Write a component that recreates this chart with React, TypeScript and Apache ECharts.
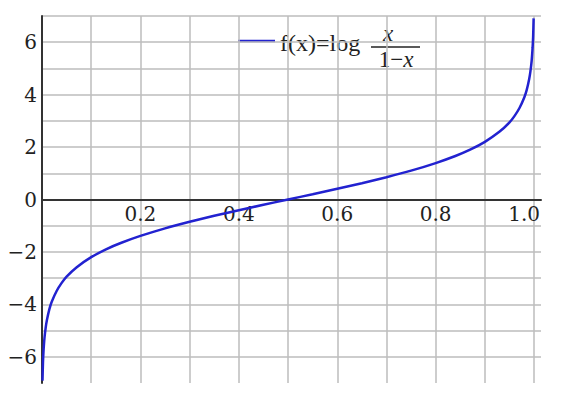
import React, { useEffect, useRef } from "react";
import * as echarts from "echarts";

// Points: [x, f(x)]
const curveX: number[] = [
  0.001, 0.002, 0.003, 0.005, 0.0075, 0.01, 0.015, 0.02, 0.03, 0.04, 0.05, 0.07,
  0.1, 0.13, 0.16, 0.2, 0.25, 0.3, 0.35, 0.4, 0.45, 0.5, 0.55, 0.6, 0.65, 0.7,
  0.75, 0.8, 0.84, 0.87, 0.9, 0.93, 0.95, 0.96, 0.97, 0.98, 0.985, 0.99, 0.9925,
  0.995, 0.997, 0.998, 0.999,
];
const curveY: number[] = [
  -6.91, -6.21, -5.81, -5.29, -4.89, -4.6, -4.18, -3.89, -3.48, -3.18, -2.94, -2.59,
  -2.2, -1.9, -1.66, -1.39, -1.1, -0.85, -0.62, -0.41, -0.2, 0, 0.2, 0.41, 0.62, 0.85,
  1.1, 1.39, 1.66, 1.9, 2.2, 2.59, 2.94, 3.18, 3.48, 3.89, 4.18, 4.6, 4.89,
  5.29, 5.81, 6.21, 6.91,
];
const xTickLabels: string[] = ["0.2", "0.4", "0.6", "0.8", "1.0"];
const yTickLabels: string[] = ["−6", "−4", "−2", "0", "2", "4", "6"];
const seriesName = "f(x)=log x/(1−x)";

const AXIS_FONT = "'DejaVu Serif', serif";
const LEG_FONT = "'Liberation Serif', 'Times New Roman', serif";
const BLUE = "#2222d0";

export default function App() {
  const ref = useRef<HTMLDivElement>(null);
  useEffect(() => {
    if (!ref.current) return;
    const chart = echarts.init(ref.current, null, { renderer: "svg" });
    const data = curveX.map((x, i) => [x, curveY[i]]);
    chart.setOption({
      animation: false,
      backgroundColor: "#ffffff",
      grid: { left: 42, top: 16, right: 34, bottom: 34, containLabel: false },
      xAxis: {
        type: "value",
        min: 0,
        max: 1.014,
        interval: 0.1,
        axisLine: { show: true, onZero: true, lineStyle: { color: "#333", width: 2 } },
        axisTick: { show: false },
        splitLine: {
          show: true,
          showMinLine: false,
          showMaxLine: false,
          lineStyle: { color: "#bdbdbd", width: 1.5 },
        },
        axisLabel: {
          show: true,
          margin: -179,
          color: "#222",
          fontFamily: AXIS_FONT,
          fontSize: 20,
          showMaxLabel: false,
          formatter: (v: number) => {
            const k = Math.round(v * 10);
            if (Math.abs(v * 10 - k) > 1e-6) return "";
            const lbl = (k / 10).toFixed(1);
            if (!xTickLabels.includes(lbl)) return "";
            return k === 10 ? "{r|" + lbl + "}" : lbl;
          },
          rich: {
            r: { fontFamily: AXIS_FONT, fontSize: 20, color: "#222", padding: [0, 20, 0, 0] },
          },
        },
      },
      yAxis: {
        type: "value",
        min: -7,
        max: 7,
        interval: 1,
        axisLine: { show: true, onZero: false, lineStyle: { color: "#333", width: 2 } },
        axisTick: { show: false },
        splitLine: {
          show: true,
          showMinLine: false,
          lineStyle: { color: "#bdbdbd", width: 1.5 },
        },
        axisLabel: {
          show: true,
          margin: 5,
          color: "#222",
          fontFamily: AXIS_FONT,
          fontSize: 20,
          formatter: (v: number) => {
            const k = Math.round(v);
            const lbl = k < 0 ? "−" + Math.abs(k) : String(k);
            return yTickLabels.includes(lbl) ? lbl : "";
          },
        },
      },
      series: [
        {
          name: seriesName,
          type: "line",
          data,
          showSymbol: false,
          smooth: 0.2,
          clip: true,
          lineStyle: { color: BLUE, width: 2.5 },
        },
      ],
      graphic: [
        {
          type: "line",
          shape: { x1: 238, y1: 41, x2: 275, y2: 41 },
          style: { stroke: BLUE, lineWidth: 2.5 },
        },
        {
          type: "text",
          x: 280,
          y: 43,
          style: {
            text: "f(x)=log",
            font: "24px " + LEG_FONT,
            fill: "#222",
            verticalAlign: "middle",
          },
        },
        {
          type: "text",
          x: 388,
          y: 33,
          style: {
            text: "x",
            font: "italic 23px " + LEG_FONT,
            fill: "#222",
            align: "center",
            verticalAlign: "middle",
          },
        },
        {
          type: "line",
          shape: { x1: 371, y1: 47, x2: 420, y2: 47 },
          style: { stroke: "#222", lineWidth: 1.5 },
        },
        {
          type: "text",
          x: 396,
          y: 59,
          style: {
            rich: {
              n: { font: "23px " + LEG_FONT, fill: "#222" },
              i: { font: "italic 23px " + LEG_FONT, fill: "#222" },
            },
            text: "{n|1−}{i|x}",
            align: "center",
            verticalAlign: "middle",
          },
        },
      ],
    });
    return () => chart.dispose();
  }, []);
  return (
    <div
      ref={ref}
      style={{ position: "absolute", left: 0, top: 0, width: 575, height: 417, background: "#fff" }}
    />
  );
}
